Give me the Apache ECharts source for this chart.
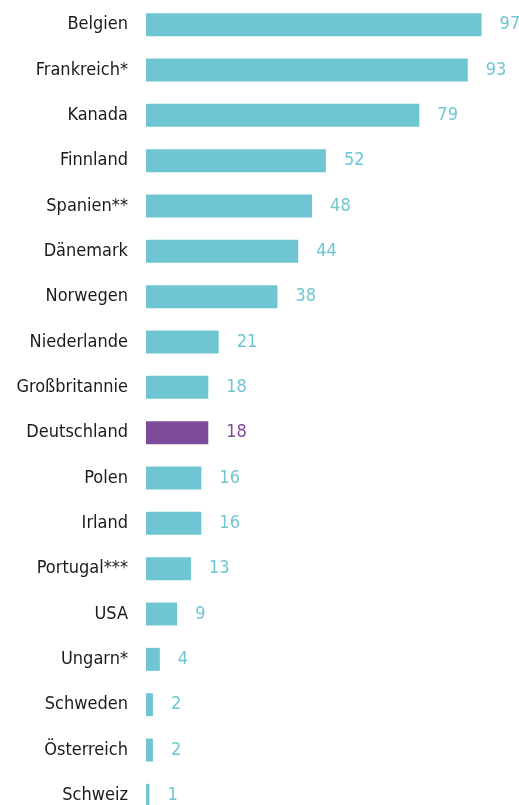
<!DOCTYPE html>
<html>
<head>
<meta charset="utf-8">
<script src="https://cdn.jsdelivr.net/npm/echarts@6/dist/echarts.min.js"></script>
<style>
  html, body { margin: 0; padding: 0; background: #fff; }
  #chart { width: 519px; height: 805px; }
</style>
</head>
<body>
<div id="chart"></div>
<script>
const countries = ["Belgien", "Frankreich*", "Kanada", "Finnland", "Spanien**", "Dänemark", "Norwegen",
  "Niederlande", "Großbritannie", "Deutschland", "Polen", "Irland", "Portugal***", "USA", "Ungarn*",
  "Schweden", "Österreich", "Schweiz"];
const values = [97, 93, 79, 52, 48, 44, 38, 21, 18, 18, 16, 16, 13, 9, 4, 2, 2, 1];
const highlight = "Deutschland";

const TEAL = "#6fc6d2";
const PURPLE = "#7e4a9a";
const FONT = "'DejaVu Sans Condensed', 'Roboto', sans-serif";

const chart = echarts.init(document.getElementById("chart"));

// highlighted country gets its own colour
const barData = values.map((v, i) => {
  const c = countries[i] === highlight ? PURPLE : TEAL;
  return { value: v, itemStyle: { color: c }, label: { color: c } };
});

chart.setOption({
  animation: false,
  // last row is cut off at the bottom edge, like the reference
  grid: { left: 146, top: 2, width: 346, height: 816, outerBoundsMode: "none", containLabel: false },
  xAxis: { type: "value", min: 0, max: 100, show: false },
  yAxis: {
    type: "category",
    data: countries,
    inverse: true,
    axisLine: { show: false },
    axisTick: { show: false },
    axisLabel: { margin: 18, color: "#1a1a1a", fontSize: 18, fontFamily: FONT }
  },
  series: [{
    type: "bar",
    data: barData,
    barWidth: 23,
    label: { show: true, position: "right", distance: 18, fontSize: 18, fontFamily: FONT }
  }]
});
</script>
</body>
</html>
